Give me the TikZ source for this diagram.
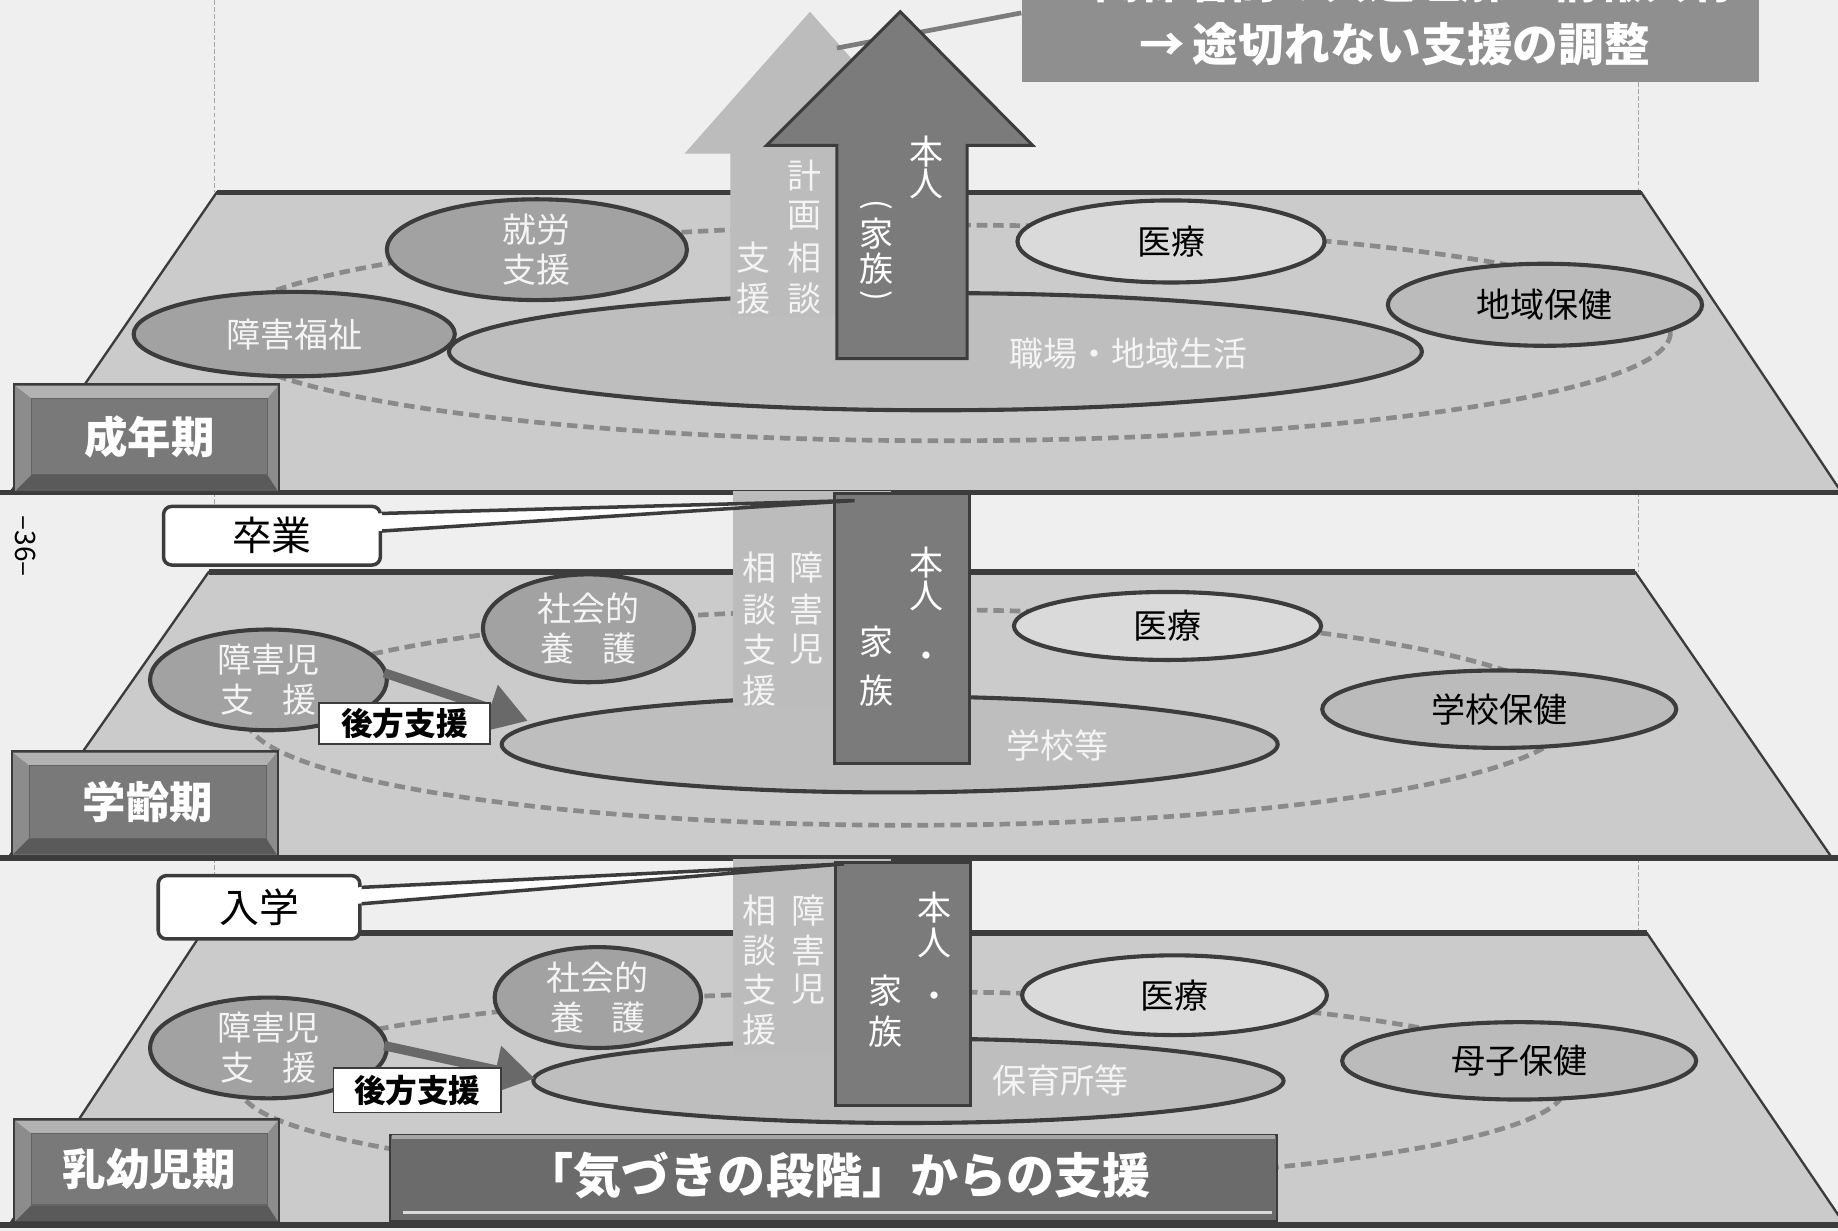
\documentclass[tikz,border=0pt]{standalone}
\usepackage{fontspec}
\setmainfont{Noto Sans CJK JP}
\usetikzlibrary{shapes.geometric,arrows.meta,calc}
\definecolor{paper}{HTML}{EFEFEF}
\definecolor{planecol}{HTML}{CBCBCB}
\definecolor{edgecol}{HTML}{3C3C3C}
\definecolor{darkell}{HTML}{A2A2A2}
\definecolor{midell}{HTML}{BBBBBB}
\definecolor{lightell}{HTML}{DADADA}
\definecolor{bigell}{HTML}{BEBEBE}
\definecolor{darkcol}{HTML}{7B7B7B}
\definecolor{lightcol}{HTML}{BCBCBC}
\definecolor{dashcol}{HTML}{8A8A8A}
\definecolor{topboxcol}{HTML}{8F8F8F}
\definecolor{lblinner}{HTML}{797979}
\definecolor{lblouter}{HTML}{8C8C8C}
\definecolor{lbltop}{HTML}{B2B2B2}
\definecolor{lblbot}{HTML}{5A5A5A}
\definecolor{kizukicol}{HTML}{6B6B6B}
\definecolor{coltext}{HTML}{F4F4F4}
\newcommand\fsEll{\fontsize{29}{34}\selectfont}
\newcommand\fsCol{\fontsize{29}{29}\selectfont}
\newcommand\fsParen{\fontsize{27}{27}\selectfont}
\newcommand\fsLbl{\fontsize{37}{37}\selectfont\bfseries}
\newcommand\fsTop{\fontsize{39}{39}\selectfont\bfseries}
\newcommand\fsKiz{\fontsize{41}{41}\selectfont\bfseries}
\newcommand\fsCall{\fontsize{34}{34}\selectfont}
\newcommand\fsKoho{\fontsize{27}{27}\selectfont\bfseries}
\begin{document}
\begin{tikzpicture}[x=1pt,y=-1pt,
  planeshape/.style={fill=planecol,draw=edgecol,line width=2pt},
  planeedge/.style={draw=edgecol,line width=4.5pt},
  dashloop/.style={draw=dashcol,line width=4pt,dash pattern=on 9pt off 5pt},
  thinline/.style={draw=gray!70,line width=0.8pt,dash pattern=on 4pt off 2pt},
  ell/.style={ellipse,draw=edgecol,line width=3.5pt,inner sep=0pt,align=center,font=\fsEll},
  wtext/.style={text=coltext,font=\fsEll,inner sep=0pt},
  ctext/.style={text=white,font=\fsCol,inner sep=0pt},
  ptext/.style={text=white,font=\fsParen,inner sep=0pt,rotate=-90},
  ltext/.style={text=coltext,font=\fsCol,inner sep=0pt},
  lightcolumn/.style={fill=lightcol},
  darkcolumn/.style={fill=darkcol,draw=edgecol,line width=2.5pt},
  backarrow/.style={draw=darkcol!85!black,line width=8pt,-{Triangle[length=34pt,width=40pt]}},
  kobox/.style={draw=edgecol,fill=white,line width=1.5pt,font=\fsKoho,inner sep=0pt,minimum height=35pt},
  callbox/.style={draw=edgecol,fill=white,line width=3pt,rounded corners=7pt,font=\fsCall,inner sep=0pt},
  callline/.style={draw=edgecol,line width=3pt},
  lblin/.style={fill=lblinner,draw=edgecol!80,line width=1pt,text=white,font=\fsLbl,inner sep=0pt}
]
\useasboundingbox (0,0) rectangle (1568,1050);
\clip (0,0) rectangle (1568,1050);
\fill[paper] (0,0) rectangle (1568,1050);

% thin guide lines
\draw[thinline] (183,0) -- (183,164);
\draw[thinline] (1398,70) -- (1398,164);
\draw[thinline] (183,420) -- (183,432);
\draw[thinline] (1398,420) -- (1398,488);
\draw[thinline] (183,732) -- (183,746);
\draw[thinline] (1398,732) -- (1398,796);

% page number
\node[rotate=-90,font=\fontsize{24}{24}\selectfont,inner sep=0pt] (pageno) at (22,466) {–36–};

% ================= plane 1 : adult
\path[planeshape] (185,164) -- (1400,164) -- (1571,420) -- (9,420) -- cycle;
\draw[planeedge] (185,164) -- (1400,164);
\draw[planeedge] (0,420) -- (1568,420);
\draw[dashloop] (805,284) ellipse [x radius=620pt, y radius=92pt];
\node[ell,fill=bigell,minimum width=830pt,minimum height=100pt] (shokuba) at (798,300) {};
\node[ell,fill=darkell,text=coltext,minimum width=256pt,minimum height=70pt] (shuro) at (458,213) {就労\\支援};
\node[ell,fill=darkell,text=coltext,minimum width=274pt,minimum height=72pt] (fukushi) at (251,285) {障害福祉};
\node[ell,fill=lightell,minimum width=262pt,minimum height=70pt] (iryo1) at (999,206) {医療};
\node[ell,fill=midell,minimum width=268pt,minimum height=70pt] (chiiki) at (1318,260) {地域保健};
\node[wtext] (shokubaT) at (963,302) {職場・地域生活};

% arrows
\path[lightcolumn] (691,10) -- (798,131) -- (759,131) -- (759,270) -- (623,270) -- (623,131) -- (584,131) -- cycle;
\coordinate (lightpt) at (714,41);
\node[fill=topboxcol,minimum width=629pt,minimum height=140pt,inner sep=0pt] (topbox) at (1186,0) {};
\draw[draw=dashcol!90!black,line width=4pt] ($(topbox.west)+(0,11)$) -- (lightpt);
\path[darkcolumn] (768,10) -- (881,124) -- (825,124) -- (825,306) -- (714,306) -- (714,124) -- (654,124) -- cycle;
\node[text=white,font=\fsTop,inner sep=0pt] (topline1) at (1207,-16) {関係者間の共通理解・情報共有};
\node[text=white,font=\fsTop,inner sep=0pt] (topline2) at (1190,38) {→\,途切れない支援の調整};

\node[ctext] (p1hon) at (790,129) {本};
\node[ctext] (p1nin) at (790,157) {人};
\node[ptext] (p1lp) at (748,175) {(};
\node[ctext] (p1ie) at (748,199) {家};
\node[ctext] (p1zoku) at (748,229) {族};
\node[ptext] (p1rp) at (748,252) {)};
\node[ltext] (p1kei) at (686,150) {計};
\node[ltext] (p1ga) at (686,184) {画};
\node[ltext] (p1so) at (686,220) {相};
\node[ltext] (p1dan) at (686,255) {談};
\node[ltext] (p1shi) at (643,220) {支};
\node[ltext] (p1en) at (643,255) {援};

% ================= plane 2 : school age
\path[planeshape] (178,488) -- (1395,488) -- (1563,732) -- (7,732) -- cycle;
\draw[planeedge] (178,488) -- (1395,488);
\draw[planeedge] (0,732) -- (1568,732);
\draw[dashloop] (775,612) ellipse [x radius=565pt, y radius=92pt];
\node[ell,fill=bigell,minimum width=662pt,minimum height=82pt] (gakko) at (759,635) {};
\node[ell,fill=darkell,text=coltext,minimum width=180pt,minimum height=92pt] (shakai2) at (502,536) {社会的\\養\hspace{0.8em}護};
\node[ell,fill=darkell,text=coltext,minimum width=202pt,minimum height=82pt] (jshien2) at (229,580) {障害児\\支\hspace{0.8em}援};
\node[ell,fill=lightell,minimum width=262pt,minimum height=58pt] (iryo2) at (996,534) {医療};
\node[ell,fill=midell,minimum width=302pt,minimum height=66pt] (gakkohoken) at (1279,605) {学校保健};
\node[wtext] (gakkoT) at (902,636) {学校等};
\path[lightcolumn] (625,419) rectangle (760,603);
\path[darkcolumn] (712,421) rectangle (827,651);
\node[ltext] (p2sho) at (688,484) {障};
\node[ltext] (p2gai) at (688,520) {害};
\node[ltext] (p2ji) at (688,554) {児};
\node[ltext] (p2so) at (648,484) {相};
\node[ltext] (p2dan) at (648,520) {談};
\node[ltext] (p2shi) at (648,554) {支};
\node[ltext] (p2en) at (648,589) {援};
\node[ctext] (p2hon) at (790,480) {本};
\node[ctext] (p2nin) at (790,508) {人};
\node[ctext] (p2dot) at (790,563) {・};
\node[ctext] (p2ie) at (748,547) {家};
\node[ctext] (p2zoku) at (748,589) {族};
\draw[backarrow] ($(jshien2.east)+(-4,-6)$) -- ($(gakko.west)+(24,-20)$);
\node[kobox,minimum width=146pt] (koho2) at (345,617) {後方支援};

% callout graduation
\coordinate (tipS) at (729,427);
\node[callbox,minimum width=185pt,minimum height=50pt] (sotsu) at (232,457) {卒業};
\fill[white] ($(sotsu.east)+(-4,-19)$) -- (tipS) -- ($(sotsu.east)+(-4,-4)$) -- cycle;
\draw[callline] ($(sotsu.east)+(0,-19)$) -- (tipS) -- ($(sotsu.east)+(0,-4)$);

% ================= plane 3 : infancy
\path[planeshape] (172,796) -- (1405,796) -- (1574,1045) -- (8,1045) -- cycle;
\draw[planeedge] (172,796) -- (1405,796);
\draw[planeedge] (0,1045) -- (1568,1045);
\draw[dashloop] (770,928) ellipse [x radius=565pt, y radius=82pt];
\node[ell,fill=bigell,minimum width=640pt,minimum height=72pt] (hoiku) at (775,922) {};
\node[ell,fill=darkell,text=coltext,minimum width=176pt,minimum height=76pt] (shakai3) at (510,851) {社会的\\養\hspace{0.8em}護};
\node[ell,fill=darkell,text=coltext,minimum width=202pt,minimum height=80pt] (jshien3) at (229,894) {障害児\\支\hspace{0.8em}援};
\node[ell,fill=lightell,minimum width=260pt,minimum height=68pt] (iryo3) at (1002,849) {医療};
\node[ell,fill=midell,minimum width=302pt,minimum height=66pt] (boshi) at (1296,905) {母子保健};
\node[wtext] (hoikuT) at (905,922) {保育所等};
\path[lightcolumn] (625,733) rectangle (760,900);
\path[darkcolumn] (713,736) rectangle (828,943);
\node[ltext] (p3sho) at (690,777) {障};
\node[ltext] (p3gai) at (690,811) {害};
\node[ltext] (p3ji) at (690,844) {児};
\node[ltext] (p3so) at (648,777) {相};
\node[ltext] (p3dan) at (648,811) {談};
\node[ltext] (p3shi) at (648,844) {支};
\node[ltext] (p3en) at (648,878) {援};
\node[ctext] (p3hon) at (797,774) {本};
\node[ctext] (p3nin) at (797,804) {人};
\node[ctext] (p3dot) at (797,853) {・};
\node[ctext] (p3ie) at (755,845) {家};
\node[ctext] (p3zoku) at (755,880) {族};
\draw[backarrow] ($(jshien3.east)+(-4,-2)$) -- ($(hoiku.west)+(3,-2)$);
\node[kobox,minimum width=143pt,minimum height=38pt] (koho3) at (356,930) {後方支援};

% callout school entry
\coordinate (tipN) at (720,737);
\node[callbox,minimum width=172pt,minimum height=54pt] (nyugaku) at (221,774) {入学};
\fill[white] ($(nyugaku.east)+(-4,-17)$) -- (tipN) -- ($(nyugaku.east)+(-4,-3)$) -- cycle;
\draw[callline] ($(nyugaku.east)+(0,-17)$) -- (tipN) -- ($(nyugaku.east)+(0,-3)$);

% kizuki box
\node[fill=kizukicol,draw=edgecol,line width=2pt,minimum width=757pt,minimum height=74pt,inner sep=0pt] (kizuki) at (711,1005) {};
\draw[white!85!black,line width=2.5pt] ($(kizuki.south west)+(12,-9)$) -- ($(kizuki.south east)+(-5,-9)$);
\draw[gray!70,line width=3pt] ($(kizuki.north west)+(3,3)$) -- ($(kizuki.north east)+(-3,3)$);
\node[text=white,font=\fsKiz,inner sep=0pt] (kizukiT) at (715,1003) {「気づきの段階」からの支援};

% ================= stage labels
\fill[lblouter,draw=edgecol,line width=2pt] (12,328) rectangle (238,420);
\fill[lbltop] (13,329) -- (237,329) -- (228,340) -- (27,340) -- cycle;
\fill[lblbot] (13,419) -- (237,419) -- (228,405) -- (27,405) -- cycle;
\node[lblin,minimum width=201pt,minimum height=65pt] (seinen) at (127.5,372.5) {成年期};

\fill[lblouter,draw=edgecol,line width=2pt] (10,641) rectangle (237,730);
\fill[lbltop] (11,642) -- (236,642) -- (227,653) -- (25,653) -- cycle;
\fill[lblbot] (11,729) -- (236,729) -- (227,715) -- (25,715) -- cycle;
\node[lblin,minimum width=202pt,minimum height=62pt] (gakurei) at (126,684) {学齢期};

\fill[lblouter,draw=edgecol,line width=2pt] (12,955) rectangle (238,1043);
\fill[lbltop] (13,956) -- (237,956) -- (228,967) -- (27,967) -- cycle;
\fill[lblbot] (13,1042) -- (237,1042) -- (228,1028) -- (27,1028) -- cycle;
\node[lblin,minimum width=201pt,minimum height=61pt] (nyuyo) at (127.5,997.5) {乳幼児期};
\end{tikzpicture}
\end{document}
